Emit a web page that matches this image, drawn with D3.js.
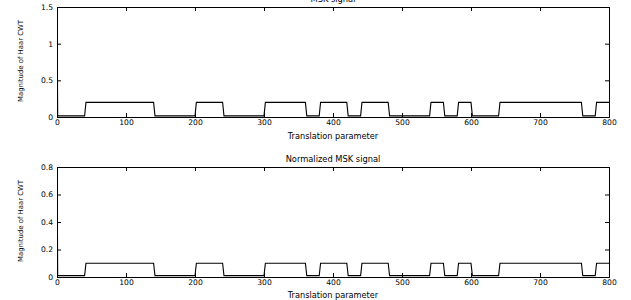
<!DOCTYPE html>
<html><head><meta charset="utf-8">
<script src="https://cdn.jsdelivr.net/npm/d3@7"></script>
<style>body{margin:0;background:#fff}svg{display:block}</style>
</head><body>
<svg id="c" width="631" height="300"></svg>
<script>
// Data
const translation = [0, 1, 40, 42, 140, 142, 200, 202, 240, 242, 300, 302, 360, 362, 380, 382, 420, 422, 440, 442, 480, 482, 540, 542, 560, 562, 580, 582, 600, 602, 640, 642, 760, 762, 780, 782, 800];
const mskSignal = [1.6, 0.015, 0.015, 0.2, 0.2, 0.015, 0.015, 0.2, 0.2, 0.015, 0.015, 0.2, 0.2, 0.015, 0.015, 0.2, 0.2, 0.015, 0.015, 0.2, 0.2, 0.015, 0.015, 0.2, 0.2, 0.015, 0.015, 0.2, 0.2, 0.015, 0.015, 0.2, 0.2, 0.015, 0.015, 0.2, 0.2];
const normSignal = [0.9, 0.01, 0.01, 0.1, 0.1, 0.01, 0.01, 0.1, 0.1, 0.01, 0.01, 0.1, 0.1, 0.01, 0.01, 0.1, 0.1, 0.01, 0.01, 0.1, 0.1, 0.01, 0.01, 0.1, 0.1, 0.01, 0.01, 0.1, 0.1, 0.01, 0.01, 0.1, 0.1, 0.01, 0.01, 0.1, 0.1];
const xTicks = [0, 100, 200, 300, 400, 500, 600, 700, 800];
const yTicksTop = [0, 0.5, 1, 1.5];
const yTicksBottom = [0, 0.2, 0.4, 0.6, 0.8];
const titles = ["MSK signal", "Normalized MSK signal"];
const xLabel = "Translation parameter";
const yLabel = "Magnitude of Haar CWT";

const svg = d3.select("#c");
const font = "DejaVu Sans, Verdana, sans-serif";
const left = 57, right = 609;

function panel(idx, top, bottom, yMax, yTicks, values, fmt, labelY) {
  const x = d3.scaleLinear().domain([0, 800]).range([left, right]);
  const y = d3.scaleLinear().domain([0, yMax]).range([bottom, top]);
  const g = svg.append("g");
  const cid = "clip" + idx;
  svg.append("clipPath").attr("id", cid).append("rect")
    .attr("x", left).attr("y", top).attr("width", right - left).attr("height", bottom - top);

  // data line
  const pts = translation.map((t, i) => [t, values[i]]);
  g.append("path").datum(pts)
    .attr("clip-path", `url(#${cid})`)
    .attr("fill", "none").attr("stroke", "#000").attr("stroke-width", 1.1)
    .attr("d", d3.line().x(d => x(d[0])).y(d => y(d[1])));

  // axes (inside ticks, MATLAB style)
  const tl = 4;
  const axB = g.append("g").attr("transform", `translate(0,${bottom})`)
    .call(d3.axisBottom(x).tickValues(xTicks).tickSize(-tl).tickPadding(3).tickFormat(d3.format("d")));
  const axT = g.append("g").attr("transform", `translate(0,${top})`)
    .call(d3.axisTop(x).tickValues(xTicks).tickSize(-tl).tickFormat(""));
  const axL = g.append("g").attr("transform", `translate(${left},0)`)
    .call(d3.axisLeft(y).tickValues(yTicks).tickSize(-tl).tickPadding(4).tickFormat(fmt));
  const axR = g.append("g").attr("transform", `translate(${right},0)`)
    .call(d3.axisRight(y).tickValues(yTicks).tickSize(-tl).tickFormat(""));
  [axB, axT, axL, axR].forEach(a => {
    a.select(".domain").attr("stroke", "#000").attr("stroke-width", 1);
    a.selectAll(".tick line").attr("stroke", "#000");
    a.selectAll("text").attr("font-family", font).attr("font-size", 7.6).attr("fill", "#000");
  });

  // title
  g.append("text").attr("x", (left + right) / 2).attr("y", top - 5)
    .attr("text-anchor", "middle").attr("font-family", font).attr("font-size", 8.3)
    .text(titles[idx]);
  // x label
  g.append("text").attr("x", (left + right) / 2).attr("y", labelY)
    .attr("text-anchor", "middle").attr("font-family", font).attr("font-size", 8.2)
    .text(xLabel);
  // y label
  g.append("text").attr("transform", `translate(23,${(top + bottom) / 2 - 1}) rotate(-90)`)
    .attr("text-anchor", "middle").attr("font-family", font).attr("font-size", 7)
    .attr("textLength", 82).attr("lengthAdjust", "spacingAndGlyphs")
    .text(yLabel);
}

panel(0, 7, 117, 1.5, yTicksTop, mskSignal, d3.format("~g"), 139);
panel(1, 167, 277, 0.8, yTicksBottom, normSignal, d => d === 0 ? "0" : d3.format(".1f")(d), 297.5);
</script>
</body></html>
